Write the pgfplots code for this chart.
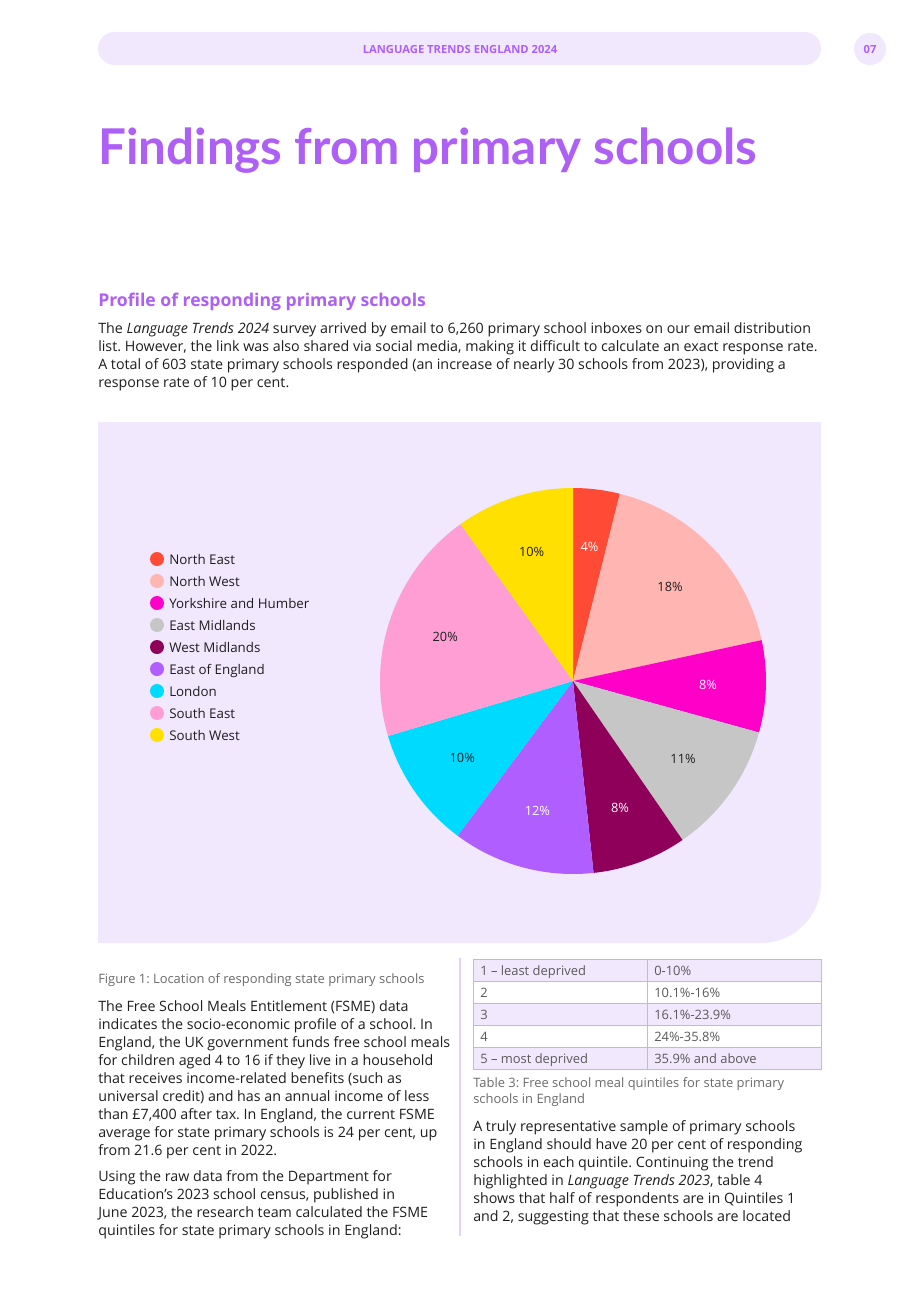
\documentclass[border=0pt]{standalone}
\usepackage{pgfplots}
\pgfplotsset{compat=1.18}
\usepackage{pgfplotstable}
\usepackage{fontspec}
\setmainfont{Open Sans}
\newfontfamily\titlefont{Lato}

\definecolor{purp}{HTML}{AE5FF5}
\definecolor{lav}{HTML}{F1E8FE}
\definecolor{txt}{HTML}{1E1E1E}
\definecolor{capg}{HTML}{6B6B6B}
\definecolor{tblg}{HTML}{5A5A5A}
\definecolor{tblb}{HTML}{CDAEF5}
\definecolor{divl}{HTML}{E3D3FA}

\definecolor{pc0}{HTML}{FF4A36}
\definecolor{pc1}{HTML}{FFB5B2}
\definecolor{pc2}{HTML}{FF00C8}
\definecolor{pc3}{HTML}{C6C6C6}
\definecolor{pc4}{HTML}{8E005A}
\definecolor{pc5}{HTML}{B05EFF}
\definecolor{pc6}{HTML}{00DAFF}
\definecolor{pc7}{HTML}{FF9ED4}
\definecolor{pc8}{HTML}{FFE000}
\colorlet{tc0}{white}
\colorlet{tc1}{txt}
\colorlet{tc2}{white}
\colorlet{tc3}{txt}
\colorlet{tc4}{white}
\colorlet{tc5}{white}
\colorlet{tc6}{txt}
\colorlet{tc7}{txt}
\colorlet{tc8}{txt}

\pgfplotstableread[col sep=comma]{
name,value
North East,3.9
North West,17.7
Yorkshire and Humber,7.7
East Midlands,11.1
West Midlands,7.9
East of England,11.9
London,10.2
South East,19.7
South West,9.9
}\piedata

\newcommand\bodyfont{\fontsize{10.7pt}{12pt}\selectfont}
\newcommand\legfont{\fontsize{10pt}{12pt}\selectfont}
\newcommand\capfont{\fontsize{9.7pt}{11pt}\selectfont}

\begin{document}
\frenchspacing
\begin{tikzpicture}
% ---- compute slice angles from the data ----
\xdef\cumsum{0}
\foreach \i in {0,...,8}{%
  \pgfplotstablegetelem{\i}{value}\of\piedata
  \let\v\pgfplotsretval
  \pgfmathsetmacro\sa{90-3.6*\cumsum}%
  \pgfmathsetmacro\newcum{\cumsum+\v}%
  \pgfmathsetmacro\ea{90-3.6*\newcum}%
  \pgfmathsetmacro\ma{(\sa+\ea)/2}%
  \pgfmathtruncatemacro\lb{round(\v)}%
  \expandafter\xdef\csname sa\i\endcsname{\sa}%
  \expandafter\xdef\csname ea\i\endcsname{\ea}%
  \expandafter\xdef\csname ma\i\endcsname{\ma}%
  \expandafter\xdef\csname lb\i\endcsname{\lb}%
  \xdef\cumsum{\newcum}%
}

\begin{scope}[x=0.75pt,y=-0.75pt]
  \fill[white] (0,0) rectangle (920,1302);
  \useasboundingbox (0,0) rectangle (920,1302);
  % header
  \fill[lav,rounded corners=12.3pt] (98,32) rectangle (821,65);
  \node[font=\fontsize{8.4pt}{9pt}\selectfont\bfseries,text=purp] at (460,49) {LANGUAGE TRENDS ENGLAND 2024};
  \fill[lav] (870,49) circle[radius=16];
  \node[font=\fontsize{8.4pt}{9pt}\selectfont\bfseries,text=purp] at (870,49) {07};
  % title
  \node[anchor=base west,inner sep=0pt,font=\titlefont\fontsize{37pt}{44pt}\selectfont\bfseries,text=purp] at (98,165) {Findings from primary schools};
  \node[anchor=base west,inner sep=0pt,font=\fontsize{13.2pt}{15pt}\selectfont\bfseries,text=purp] at (98,306) {Profile of responding primary schools};
  % intro
  \begin{scope}[every node/.style={anchor=base west,inner sep=0pt,font=\bodyfont,text=txt}]
    \node at (98,333) {The \textit{Language Trends 2024} survey arrived by email to 6,260 primary school inboxes on our email distribution};
    \node at (98,351) {list. However, the link was also shared via social media, making it difficult to calculate an exact response rate.};
    \node at (98,369) {A total of 603 state primary schools responded (an increase of nearly 30 schools from 2023), providing a};
    \node at (98,387) {response rate of 10 per cent.};
  \end{scope}
  % chart panel
  \fill[lav,rounded corners=45pt] (98,422) rectangle (821,943);
  \fill[lav] (98,422) rectangle (821,860);
  \fill[lav] (98,422) rectangle (740,943);
  % legend
  \foreach \i [evaluate=\i as \yy using 559+22*\i] in {0,...,8}{%
    \pgfplotstablegetelem{\i}{name}\of\piedata
    \fill[pc\i] (157,\yy) circle[radius=7];
    \node[anchor=base west,inner sep=0pt,font=\legfont,text=txt] at (169,\yy+5) {\pgfplotsretval};
  }
  % lower left column
  \node[anchor=base west,inner sep=0pt,font=\capfont,text=capg] at (98,983) {Figure 1: Location of responding state primary schools};
  \begin{scope}[every node/.style={anchor=base west,inner sep=0pt,font=\bodyfont,text=txt}]
    \node at (98,1011) {The Free School Meals Entitlement (FSME) data};
    \node at (98,1029) {indicates the socio-economic profile of a school. In};
    \node at (98,1047) {England, the UK government funds free school meals};
    \node at (98,1065) {for children aged 4 to 16 if they live in a household};
    \node at (98,1083) {that receives income-related benefits (such as};
    \node at (98,1101) {universal credit) and has an annual income of less};
    \node at (98,1119) {than £7,400 after tax. In England, the current FSME};
    \node at (98,1137) {average for state primary schools is 24 per cent, up};
    \node at (98,1155) {from 21.6 per cent in 2022.};
    \node at (98,1181) {Using the raw data from the Department for};
    \node at (98,1199) {Education’s 2023 school census, published in};
    \node at (98,1217) {June 2023, the research team calculated the FSME};
    \node at (98,1235) {quintiles for state primary schools in England:};
  \end{scope}
  \draw[divl,line width=1.2pt] (460,958) -- (460,1236);
  % table
  \fill[lav] (473,959) rectangle (821,981);
  \fill[lav] (473,1003) rectangle (821,1025);
  \fill[lav] (473,1047) rectangle (821,1069);
  \draw[tblb,line width=0.6pt] (473,959) rectangle (821,1069);
  \foreach \yy in {981,1003,1025,1047} \draw[tblb,line width=0.6pt] (473,\yy) -- (821,\yy);
  \draw[tblb,line width=0.6pt] (647,959) -- (647,1069);
  \begin{scope}[every node/.style={anchor=base west,inner sep=0pt,font=\capfont,text=tblg}]
    \node at (480,975) {1 – least deprived};  \node at (654,975) {0-10\%};
    \node at (480,997) {2};                   \node at (654,997) {10.1\%-16\%};
    \node at (480,1019) {3};                  \node at (654,1019) {16.1\%-23.9\%};
    \node at (480,1041) {4};                  \node at (654,1041) {24\%-35.8\%};
    \node at (480,1063) {5 – most deprived};  \node at (654,1063) {35.9\% and above};
    \node[text=capg] at (473,1087) {Table 3: Free school meal quintiles for state primary};
    \node[text=capg] at (473,1103) {schools in England};
  \end{scope}
  \begin{scope}[every node/.style={anchor=base west,inner sep=0pt,font=\bodyfont,text=txt}]
    \node at (473,1131) {A truly representative sample of primary schools};
    \node at (473,1149) {in England should have 20 per cent of responding};
    \node at (473,1167) {schools in each quintile. Continuing the trend};
    \node at (473,1185) {highlighted in \textit{Language Trends 2023}, table 4};
    \node at (473,1203) {shows that half of respondents are in Quintiles 1};
    \node at (473,1221) {and 2, suggesting that these schools are located};
  \end{scope}
\end{scope}

\begin{axis}[at={(429.75pt,-510.75pt)},anchor=center,scale only axis,
  width=289.5pt,height=289.5pt,xmin=-1,xmax=1,ymin=-1,ymax=1,
  hide axis,clip=false]
  \pgfplotsinvokeforeach{0,...,8}{%
    \fill[pc#1] (axis cs:0,0) -- (axis cs:{cos(\csname sa#1\endcsname)},{sin(\csname sa#1\endcsname)})
      arc[start angle=\csname sa#1\endcsname,end angle=\csname ea#1\endcsname,radius=1] -- cycle;
    \node[text=tc#1,font=\fontsize{9.6pt}{11pt}\selectfont] at (axis cs:{0.7*cos(\csname ma#1\endcsname)},{0.7*sin(\csname ma#1\endcsname)}) {\csname lb#1\endcsname\%};
  }
\end{axis}
\end{tikzpicture}
\end{document}
